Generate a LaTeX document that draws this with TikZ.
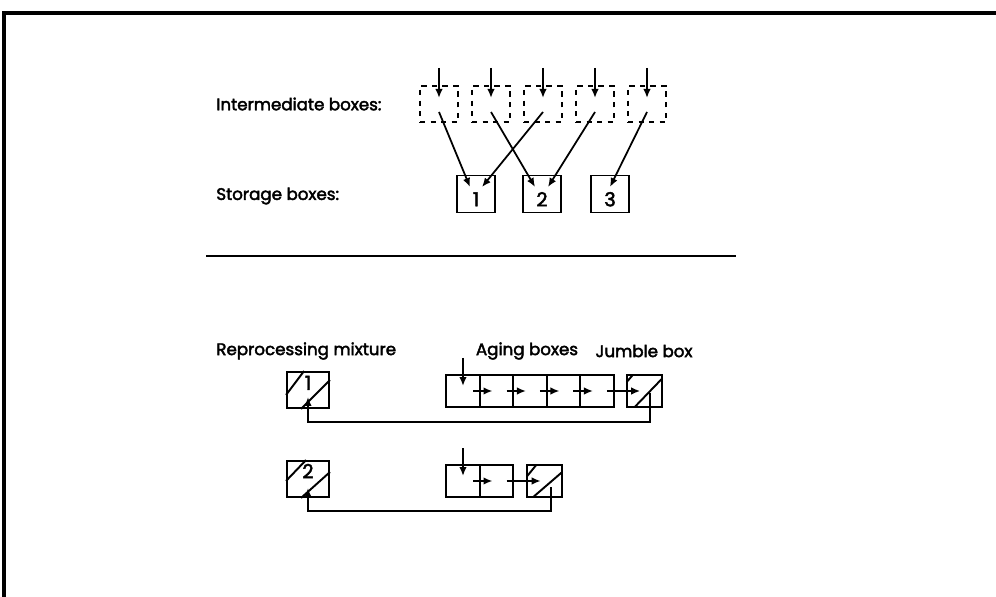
\documentclass[tikz,border=0pt]{standalone}
\usepackage{fontspec}
\setmainfont{Poppins}[FakeBold=2.5]
\usetikzlibrary{arrows.meta,positioning,calc}

\begin{document}
\begin{tikzpicture}[
        x=0.02cm, y=-0.02cm,
        font=\fontsize{9.5}{11}\selectfont,
        ibox/.style={draw, dashed, line width=1pt, minimum width=0.76cm, minimum height=0.72cm, inner sep=0pt},
        sbox/.style={draw, line width=1.1pt, minimum width=0.76cm, minimum height=0.74cm, inner sep=0pt},
        rbox/.style={draw, line width=1.1pt, minimum width=0.84cm, minimum height=0.72cm, inner sep=0pt},
        abox/.style={draw, line width=1.1pt, minimum width=0.67cm, minimum height=0.64cm, inner sep=0pt, outer sep=0pt},
        jbox/.style={draw, line width=1.1pt, minimum width=0.7cm, minimum height=0.64cm, inner sep=0pt, outer sep=0pt},
        num/.style={font=\fontsize{11}{13}\selectfont},
        lbl/.style={inner sep=0pt},
        arrow/.style={-{Latex[length=1.8mm, width=1.5mm]}, line width=1pt}
      ]
        \useasboundingbox (0,0) rectangle (996,597);
        % frame
        \draw[line width=2pt] (4,597) -- (4,13) -- (996,13);

        % upper part
        \node[lbl, anchor=west] (tint) at (216,104) {Intermediate boxes:};
        \node[lbl, anchor=west] (tsto) at (216,196) {Storage boxes:};
        \node[ibox] (i1) at (439,104) {};
        \node[ibox] (i2) at (491,104) {};
        \node[ibox] (i3) at (543,104) {};
        \node[ibox] (i4) at (595,104) {};
        \node[ibox] (i5) at (647,104) {};
        \node[sbox, label={[num, yshift=-3pt]center:1}] (s1) at (476,194) {};
        \node[sbox, label={[num, yshift=-3pt]center:2}] (s2) at (542,194) {};
        \node[sbox, label={[num, yshift=-3pt]center:3}] (s3) at (610,194) {};
        \draw[arrow] ($(i1.center)+(0,-36)$) -- ($(i1.center)+(0,-6)$);
        \draw[arrow] ($(i2.center)+(0,-36)$) -- ($(i2.center)+(0,-6)$);
        \draw[arrow] ($(i3.center)+(0,-36)$) -- ($(i3.center)+(0,-6)$);
        \draw[arrow] ($(i4.center)+(0,-36)$) -- ($(i4.center)+(0,-6)$);
        \draw[arrow] ($(i5.center)+(0,-36)$) -- ($(i5.center)+(0,-6)$);
        \draw[arrow] ($(i1.center)+(0,8)$) -- ($(s1.center)+(-6,-7)$);
        \draw[arrow] ($(i2.center)+(0,8)$) -- ($(s2.center)+(-7,-7)$);
        \draw[arrow] ($(i3.center)+(0,8)$) -- ($(s1.center)+(6,-7)$);
        \draw[arrow] ($(i4.center)+(0,8)$) -- ($(s2.center)+(6,-7)$);
        \draw[arrow] ($(i5.center)+(0,8)$) -- ($(s3.center)+(0,-7)$);

        \draw[line width=1pt] (206,256) -- (736,256);

        % lower part
        \node[lbl, anchor=west] (trep) at (216,351) {Reprocessing mixture};
        \node[lbl] (tage) at (527,351) {Aging boxes};
        \node[lbl] (tjum) at (644,351) {Jumble box};

        \node[rbox, label={[num, yshift=4pt]center:1}] (r1) at (308,390) {};
        \node[abox] (a11) at (463,391) {};
        \node[abox, right=0pt of a11] (a12) {};
        \node[abox, right=0pt of a12] (a13) {};
        \node[abox, right=0pt of a13] (a14) {};
        \node[abox, right=0pt of a14] (a15) {};
        \node[jbox, right=0.26cm of a15] (j1) {};
        \draw[line width=1.1pt] ($(r1.south west)+(0,-14)$) -- ($(r1.north west)+(18,0)$);
        \draw[line width=1.1pt] ($(r1.south west)+(15,0)$) -- ($(r1.north east)+(0,9)$);
        \draw[line width=1.1pt] ($(j1.north west)+(0,7)$) -- ($(j1.north west)+(6,0)$);
        \draw[line width=1.1pt] ($(j1.south west)+(8,0)$) -- ($(j1.north east)+(0,4)$);
        \draw[arrow] ($(a11.center)+(0,-33)$) -- ($(a11.center)+(0,-5)$);
        \draw[arrow] ($(a11.center)+(10,0)$) -- ($(a12.center)+(-4,0)$);
        \draw[arrow] ($(a12.center)+(10,0)$) -- ($(a13.center)+(-4,0)$);
        \draw[arrow] ($(a13.center)+(10,0)$) -- ($(a14.center)+(-4,0)$);
        \draw[arrow] ($(a14.center)+(10,0)$) -- ($(a15.center)+(-4,0)$);
        \draw[arrow] ($(a15.center)+(10,0)$) -- ($(j1.center)+(-4,0)$);
        \draw[arrow] ($(j1.center)+(6,2)$) |- ($(r1.center)+(0,32)$) -- ($(r1.center)+(0,7)$);

        \node[rbox, label={[num, yshift=4.5pt]center:2}] (r2) at (308,479) {};
        \node[abox] (a21) at (463,481) {};
        \node[abox, right=0pt of a21] (a22) {};
        \node[jbox, right=0.28cm of a22] (j2) {};
        \draw[line width=1.1pt] ($(r2.south west)+(0,-17)$) -- ($(r2.north west)+(20,0)$);
        \draw[line width=1.1pt] ($(r2.south west)+(15,0)$) -- ($(r2.north east)+(0,12)$);
        \draw[line width=1.1pt] ($(j2.north west)+(0,11)$) -- ($(j2.north west)+(9,0)$);
        \draw[line width=1.1pt] ($(j2.south west)+(6,0)$) -- ($(j2.north east)+(0,7)$);
        \draw[arrow] ($(a21.center)+(0,-33)$) -- ($(a21.center)+(0,-5)$);
        \draw[arrow] ($(a21.center)+(10,0)$) -- ($(a22.center)+(-4,0)$);
        \draw[arrow] ($(a22.center)+(10,0)$) -- ($(j2.center)+(-4,0)$);
        \draw[arrow] ($(j2.center)+(6,6)$) |- ($(r2.center)+(0,32)$) -- ($(r2.center)+(0,9)$);
      \end{tikzpicture}
\end{document}
